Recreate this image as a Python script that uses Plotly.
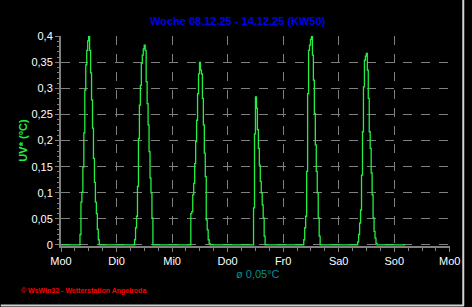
import plotly.graph_objects as go

# ---- data (hours since Monday 00:00; values in °C UV equivalent) ----
day_labels = ["Mo0", "Di0", "Mi0", "Do0", "Fr0", "Sa0", "So0", "Mo0"]
day_ticks = [0, 24, 48, 72, 96, 120, 144, 168]
step_hours = 25 / 60.0  # sampling step of the station

mon_start = 8.2
mon_vals = [0.020, 0.082, 0.101, 0.149, 0.215, 0.297, 0.345, 0.373, 0.391, 0.400,
            0.373, 0.330, 0.278, 0.224, 0.166, 0.120, 0.082, 0.060, 0.030, 0.010, 0.0]
tue_start = 31.8
tue_vals = [0.010, 0.033, 0.055, 0.112, 0.204, 0.268, 0.306, 0.348, 0.364, 0.376,
            0.383, 0.373, 0.313, 0.271, 0.230, 0.179, 0.128, 0.100, 0.052, 0.0]
wed_start = 56.1
wed_vals = [0.060, 0.064, 0.096, 0.118, 0.156, 0.198, 0.239, 0.290, 0.328, 0.350,
            0.335, 0.328, 0.281, 0.230, 0.176, 0.131, 0.048, 0.029, 0.010, 0.003, 0.0]
thu_start = 83.2
thu_vals = [0.071, 0.213, 0.284, 0.262, 0.221, 0.185, 0.153, 0.122, 0.100, 0.077,
            0.052, 0.017, 0.0]
fri_start = 104.9
fri_vals = [0.010, 0.033, 0.055, 0.141, 0.290, 0.373, 0.383, 0.394, 0.400, 0.364,
            0.316, 0.252, 0.192, 0.141, 0.100, 0.052, 0.017, 0.0]
sat_start = 128.2
sat_vals = [0.006, 0.020, 0.042, 0.067, 0.134, 0.217, 0.303, 0.354, 0.362, 0.367,
            0.335, 0.281, 0.217, 0.185, 0.138, 0.096, 0.052, 0.026, 0.013, 0.003, 0.0]
data_end = 148.7

segments = [(mon_start, mon_vals), (tue_start, tue_vals), (wed_start, wed_vals),
            (thu_start, thu_vals), (fri_start, fri_vals), (sat_start, sat_vals)]

xs, ys = [0.0], [0.0]
for start, vals in segments:
    for i, v in enumerate(vals):
        xs.append(start + i * step_hours)
        ys.append(v)
xs.append(data_end)
ys.append(0.0)

GREEN = "#22F040"
GRID = "#808080"

fig = go.Figure()
fig.add_trace(go.Scatter(x=xs, y=ys, mode="lines",
                         line=dict(color=GREEN, width=1.3, shape="hv"),
                         hoverinfo="skip"))

axis_common = dict(showgrid=True, gridcolor=GRID, griddash="dash", gridwidth=1,
                   showline=True, linecolor=GRID, linewidth=2, zeroline=False,
                   ticks="outside", tickcolor=GRID, ticklen=4, tickwidth=1,
                   tickfont=dict(color="white", size=11), layer="below traces")

fig.update_layout(
    width=472, height=307,
    margin=dict(l=61, r=15, t=36, b=61),
    paper_bgcolor="black", plot_bgcolor="black",
    separators=",.",
    showlegend=False,
    font=dict(family="Liberation Sans, Arial, sans-serif", size=11, color="white"),
    xaxis=dict(range=[0, 168.1], tickvals=day_ticks, ticktext=day_labels,
               minor=dict(dtick=6, tick0=0, ticks="outside", ticklen=3,
                          tickcolor=GRID, showgrid=False),
               **axis_common),
    yaxis=dict(range=[-0.002, 0.4005], tick0=0, dtick=0.05,
               minor=dict(dtick=0.01, tick0=0, ticks="outside", ticklen=2,
                          tickcolor=GRID, showgrid=False),
               **axis_common),
    annotations=[
        dict(text="<b>Woche 08.12.25 - 14.12.25 (KW50)</b>", xref="paper", yref="paper",
             x=0.4545, y=1.0714, showarrow=False, xanchor="center", yanchor="middle",
             font=dict(color="#0000EE", size=11)),
        dict(text="<b>UV* (°C)</b>", xref="paper", yref="paper", x=-0.0985, y=0.505,
             textangle=-90, showarrow=False, xanchor="center", yanchor="middle",
             font=dict(color=GREEN, size=11)),
        dict(text="ø 0,05°C", xref="paper", yref="paper", x=0.5076, y=-0.1333,
             showarrow=False, xanchor="center", yanchor="middle",
             font=dict(color="#009090", size=11)),
        dict(text="<b>© WsWin32 - Wetterstation Angelroda</b>", xref="paper", yref="paper",
             x=-0.1086, y=-0.2143, showarrow=False, xanchor="left", yanchor="middle",
             font=dict(color="#FF0000", size=7)),
    ],
    shapes=[
        dict(type="line", xref="paper", yref="paper", x0=1.0341, x1=1.0341,
             y0=-0.2857, y1=1.1714, line=dict(color="#D4D4D4", width=2)),
        dict(type="line", xref="paper", yref="paper", x0=-0.155, x1=1.0354,
             y0=-0.2833, y1=-0.2833, line=dict(color="#D4D4D4", width=2)),
    ],
)

fig.write_html("out.html")
